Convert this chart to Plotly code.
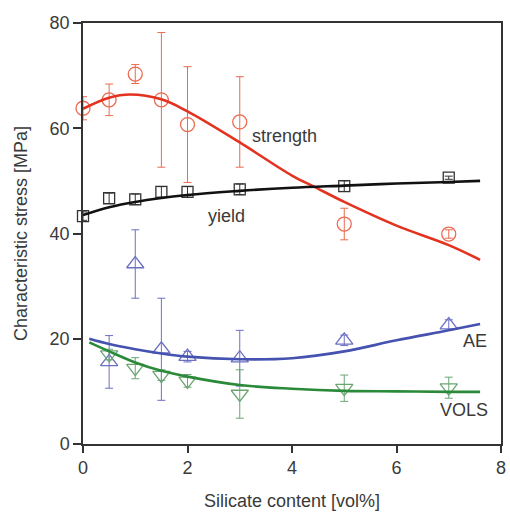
import plotly.graph_objects as go

# ---- data ----
x_pts = [0, 0.5, 1, 1.5, 2, 3, 5, 7]
strength = [63.8, 65.4, 70.3, 65.4, 60.7, 61.2, 41.8, 39.9]
strength_err = [2.2, 3.0, 1.8, 12.8, 11.0, 8.6, 3.0, 0.8]
yield_vals = [43.3, 46.7, 46.5, 47.9, 47.9, 48.4, 49.0, 50.6]
yield_err = [0.8, 1.0, 1.0, 1.0, 1.0, 1.0, 1.0, 0.3]

x_sub = [0.5, 1, 1.5, 2, 3, 5, 7]
ae = [15.6, 34.2, 18.0, 16.6, 16.3, 19.7, 22.6]
ae_err = [5.0, 6.5, 9.7, 1.0, 5.3, 1.0, 1.0]
vols = [17.0, 14.4, 13.1, 12.0, 9.5, 10.6, 10.7]
vols_err = [1.0, 2.0, 1.0, 1.2, 4.6, 2.5, 2.0]

# fitted trend curves
fit_x_str = [0, 0.5, 0.9, 1.5, 2, 3, 4, 4.44, 5, 6, 7, 7.6]
fit_str = [63.7, 65.8, 66.4, 65.5, 63.2, 57.3, 51.0, 48.8, 46.0, 41.5, 37.8, 35.0]
fit_x_yld = [0, 0.5, 1, 2, 3, 4, 5, 6, 7, 7.6]
fit_yld = [43.5, 45.0, 46.0, 47.3, 48.1, 48.7, 49.1, 49.5, 49.8, 50.0]
fit_x_ae = [0.12, 0.5, 1, 1.5, 2, 3, 4, 5, 6, 7, 7.6]
fit_ae = [20.0, 19.0, 18.0, 17.2, 16.6, 16.1, 16.3, 17.6, 19.7, 21.6, 22.8]
fit_x_vols = [0.12, 0.5, 1, 1.5, 2, 3, 4, 5, 6, 7, 7.6]
fit_vols = [19.3, 17.6, 15.5, 13.9, 12.8, 11.2, 10.5, 10.1, 10.0, 9.9, 9.9]

x_ticks = [0, 2, 4, 6, 8]
y_ticks = [0, 20, 40, 60, 80]

RED_L, RED_M = "#e3321f", "#ec6a50"
BLUE_L, BLUE_M = "#4552b0", "#6c70c2"
GREEN_L, GREEN_M = "#2a8a3a", "#6aa672"
BLACK_L, BLACK_M = "#111111", "#333333"
TXT = "#3a3a3a"
FONT = "Liberation Sans, Arial, sans-serif"

fig = go.Figure()

def pts(x, y, err, sym, col, size):
    fig.add_trace(go.Scatter(
        x=x, y=y, mode="markers", cliponaxis=False,
        marker=dict(symbol=sym, size=size, color=col,
                    line=dict(color=col, width=1.3)),
        error_y=dict(type="data", array=err, visible=True, color=col,
                     thickness=1, width=4),
        showlegend=False, hoverinfo="skip"))

def curve(x, y, col):
    fig.add_trace(go.Scatter(x=x, y=y, mode="lines", cliponaxis=False,
                             line=dict(color=col, width=2.6, shape="spline", smoothing=1.0),
                             showlegend=False, hoverinfo="skip"))

pts(x_pts, strength, strength_err, "circle-open", RED_M, 14)
pts(x_pts, yield_vals, yield_err, "square-open", BLACK_M, 11)
pts(x_sub, ae, ae_err, "triangle-up-open", BLUE_M, 15)
pts(x_sub, vols, vols_err, "triangle-down-open", GREEN_M, 15)

curve(fit_x_str, fit_str, RED_L)
curve(fit_x_yld, fit_yld, BLACK_L)
curve(fit_x_ae, fit_ae, BLUE_L)
curve(fit_x_vols, fit_vols, GREEN_L)

labels = [("strength", 3.86, 58.5), ("yield", 2.75, 43.3),
          ("AE", 7.51, 19.5), ("VOLS", 7.3, 6.4)]
anns = [dict(x=lx, y=ly, text=t, showarrow=False, xref="x", yref="y",
             font=dict(size=18, color=TXT, family=FONT)) for t, lx, ly in labels]

fig.update_layout(
    width=510, height=512,
    margin=dict(l=83, r=4, t=23, b=66),
    plot_bgcolor="white", paper_bgcolor="white",
    font=dict(family=FONT, size=18, color=TXT),
    xaxis=dict(range=[0, 8], tickvals=x_ticks, showgrid=False, zeroline=False,
               showline=True, linecolor="#333", linewidth=1.5, mirror=True,
               ticks="outside", ticklen=7, tickwidth=1.5, tickcolor="#333",
               title=dict(text="Silicate content [vol%]", standoff=17,
                          font=dict(size=18, color=TXT))),
    yaxis=dict(range=[0, 80], tickvals=y_ticks, showgrid=False, zeroline=False,
               showline=True, linecolor="#333", linewidth=1.5, mirror=True,
               ticks="outside", ticklen=8, tickwidth=1.5, tickcolor="#333",
               title=dict(text="Characteristic stress [MPa]", standoff=17,
                          font=dict(size=18, color=TXT))),
    annotations=anns,
)

fig.write_html("out.html")
